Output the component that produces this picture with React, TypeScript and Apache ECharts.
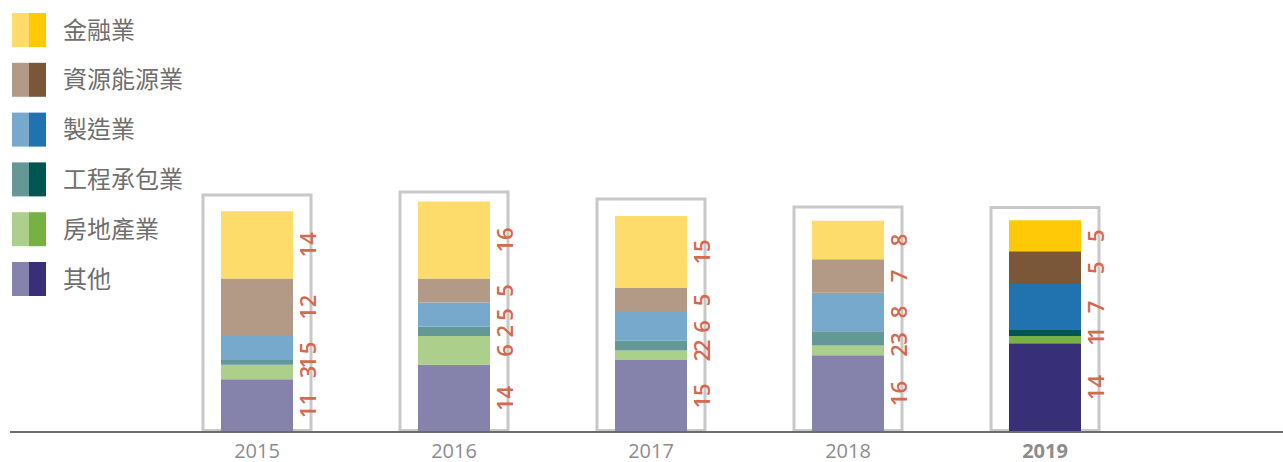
import React, { useEffect, useRef } from "react";
import * as echarts from "echarts";

const years = ["2015", "2016", "2017", "2018", "2019"];
const highlightYear = "2019";

// series, listed bottom of the stack first
const seriesNames = ["其他", "房地產業", "工程承包業", "製造業", "資源能源業", "金融業"];
const lightColors = ["#8583AB", "#ADCF8C", "#639896", "#77A9CC", "#B39A87", "#FDDC6B"];
const darkColors = ["#373078", "#77B143", "#015551", "#2073AF", "#7B573A", "#FFC907"];

// bar heights as drawn
const otherValues = [11, 14, 15, 16, 18.5];
const propertyValues = [3, 6, 2, 2, 1.5];
const constructionValues = [1, 2, 2, 3, 1.25];
const manufacturingValues = [5, 5, 6, 8, 9.6];
const resourcesValues = [12, 5, 5, 7, 6.8];
const financeValues = [14, 16, 15, 8, 6.45];

// printed value labels
const otherLabels = ["11", "14", "15", "16", "14"];
const propertyLabels = ["3", "6", "2", "2", "1"];
const constructionLabels = ["1", "2", "2", "3", "1"];
const manufacturingLabels = ["5", "5", "6", "8", "7"];
const resourcesLabels = ["12", "5", "5", "7", "5"];
const financeLabels = ["14", "16", "15", "8", "5"];

// outline frame heights
const frameValues = [49.7, 50.6, 48.85, 47.2, 47.1];

const allValues = [otherValues, propertyValues, constructionValues, manufacturingValues, resourcesValues, financeValues];
const allLabels = [otherLabels, propertyLabels, constructionLabels, manufacturingLabels, resourcesLabels, financeLabels];

export default function App() {
  const ref = useRef<HTMLDivElement>(null);

  useEffect(() => {
    document.body.style.margin = "0";
    if (!ref.current) return;
    const chart = echarts.init(ref.current, undefined, { renderer: "svg" });

    const barSeries = seriesNames.map((name, si) => ({
      name,
      type: "bar",
      stack: "total",
      xAxisIndex: 0,
      barWidth: 72,
      z: 3,
      data: allValues[si].map((v, i) => ({
        value: v,
        itemStyle: { color: years[i] === highlightYear ? darkColors[si] : lightColors[si] },
      })),
      label: {
        show: true,
        position: [86, "50%"],
        rotate: 90,
        align: "center",
        verticalAlign: "middle",
        fontSize: 22,
        fontWeight: 600,
        fontFamily: "Open Sans",
        color: "#D4694F",
        formatter: (p: any) => allLabels[si][p.dataIndex],
      },
    }));

    const frameSeries = {
      name: "frame",
      type: "bar",
      xAxisIndex: 1,
      barWidth: 111,
      z: 1,
      silent: true,
      data: frameValues,
      itemStyle: { color: "rgba(0,0,0,0)", borderColor: "#C8C8C8", borderWidth: 3 },
    };

    const legendOrder = [...seriesNames.keys()].reverse();
    const legendGraphics: any[] = [];
    legendOrder.forEach((si, row) => {
      const cy = 30 + row * 49.8;
      legendGraphics.push(
        { type: "rect", shape: { x: 12, y: cy - 17, width: 17, height: 34 }, style: { fill: lightColors[si] } },
        { type: "rect", shape: { x: 29, y: cy - 17, width: 17, height: 34 }, style: { fill: darkColors[si] } },
        {
          type: "text",
          x: 63,
          y: cy - 2,
          style: {
            text: seriesNames[si],
            fill: "#6E6E6E",
            fontSize: 24,
            fontFamily: "Noto Sans CJK TC",
            verticalAlign: "middle",
            align: "left",
          },
        }
      );
    });

    chart.setOption({
      animation: false,
      grid: { left: 158.5, right: 139.5, top: 192, bottom: 30 },
      xAxis: [
        {
          type: "category",
          data: years.map((y) => ({
            value: y,
            textStyle: y === highlightYear ? { fontWeight: "bold" } : {},
          })),
          axisLine: { show: false },
          axisTick: { show: false },
          axisLabel: {
            color: "#8C8C8C",
            fontSize: 20,
            lineHeight: 20,
            fontFamily: "Open Sans",
            margin: 8,
          },
        },
        { type: "category", data: years, show: false },
      ],
      yAxis: { type: "value", min: 0, max: 50, show: false, splitLine: { show: false } },
      series: [frameSeries, ...barSeries],
      graphic: [
        ...legendGraphics,
        {
          type: "line",
          z: 10,
          shape: { x1: 10, y1: 432, x2: 1283, y2: 432 },
          style: { stroke: "#6B6B6B", lineWidth: 2 },
        },
      ],
    });

    return () => chart.dispose();
  }, []);

  return <div ref={ref} style={{ width: 1283, height: 462 }} />;
}
